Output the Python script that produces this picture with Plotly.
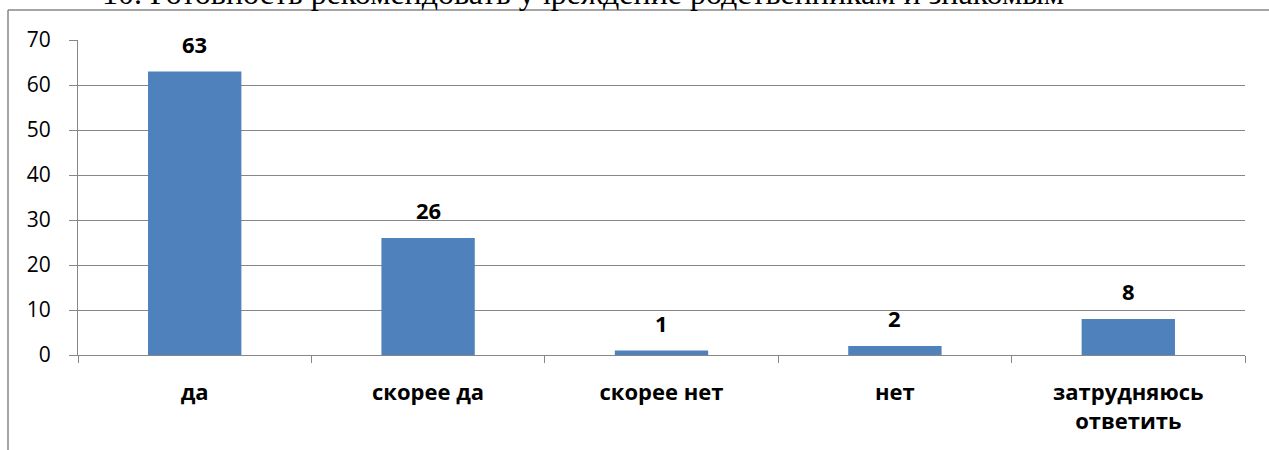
import plotly.graph_objects as go

categories = ["да", "скорее да", "скорее нет", "нет", "затрудняюсь<br>ответить"]
values = [63, 26, 1, 2, 8]
title_text = "10. Готовность рекомендовать учреждение родственникам и знакомым"

W, H = 1269, 450
L, R, T, B = 78, W - 1245, 40, H - 355
pw = W - L - R
ph = H - T - B

def px_x(p):
    return (p - L) / pw

def px_y(p):
    return (H - B - p) / ph

fig = go.Figure(go.Bar(
    x=categories, y=values,
    marker=dict(color="#4f81bd", line=dict(width=0)),
))

for c, v in zip(categories, values):
    fig.add_annotation(x=c, y=v, text=f"<b>{v}</b>", showarrow=False,
                       yanchor="bottom", yshift=11,
                       font=dict(family="Open Sans", size=22, color="black"))

fig.update_layout(
    width=W, height=H,
    margin=dict(l=L, r=R, t=T, b=B),
    paper_bgcolor="white", plot_bgcolor="white",
    bargap=0.6, showlegend=False,
    font=dict(family="Open Sans", color="black"),
)
fig.update_yaxes(
    range=[0, 70], dtick=10, showgrid=True, gridcolor="#878787", gridwidth=1,
    showline=True, linecolor="#878787", linewidth=1,
    ticks="outside", ticklen=8, tickcolor="#878787", ticklabelstandoff=14,
    tickfont=dict(size=21, family="Open Sans", color="black"), zeroline=False,
)
fig.update_xaxes(
    showline=True, linecolor="#878787", linewidth=1,
    ticks="outside", ticklen=7, tickcolor="#878787", tickson="boundaries",
    ticklabelstandoff=18,
    tickfont=dict(size=22, family="Open Sans", color="black", weight="bold"),
)

# chart-area border (partially visible)
fig.add_shape(type="line", xref="paper", yref="paper",
              x0=px_x(8), x1=px_x(1300), y0=px_y(10), y1=px_y(10),
              line=dict(color="#878787", width=1.5))
fig.add_shape(type="line", xref="paper", yref="paper",
              x0=px_x(8), x1=px_x(8), y0=px_y(10), y1=px_y(470),
              line=dict(color="#878787", width=1.5))

fig.add_annotation(text=title_text, xref="paper", yref="paper",
                   x=px_x(583), y=px_y(-7), xanchor="center", yanchor="middle",
                   showarrow=False,
                   font=dict(family="Liberation Serif", size=32, color="black"))

fig.write_html("out.html",
               config={"displayModeBar": False},
               post_script="document.body.style.margin='0';document.body.style.overflow='hidden';")
